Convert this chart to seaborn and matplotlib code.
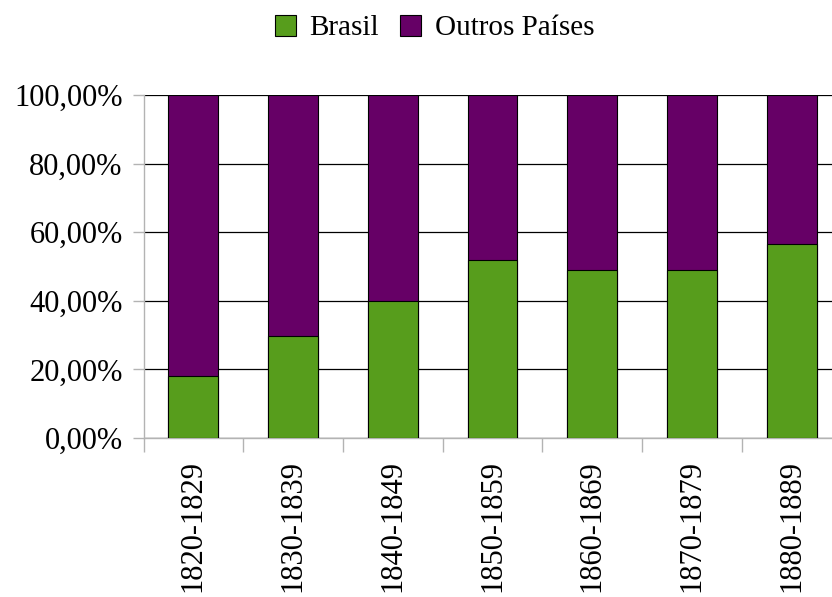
import matplotlib
matplotlib.use("Agg")
import matplotlib.pyplot as plt
import seaborn as sns
import pandas as pd
from matplotlib.ticker import FuncFormatter, FixedLocator
from matplotlib.patches import Patch

decades = ["1820-1829", "1830-1839", "1840-1849", "1850-1859", "1860-1869", "1870-1879", "1880-1889"]
brasil = [18.2, 29.6, 40.0, 52.0, 49.1, 49.1, 56.7]
outros = [100 - b for b in brasil]
series_names = ["Brasil", "Outros Países"]
colors = ["#579d1c", "#660066"]

sns.set_theme(style="white")
plt.rcParams["font.family"] = ["Liberation Serif", "DejaVu Serif"]
plt.rcParams["text.color"] = "black"
plt.rcParams["xtick.labelcolor"] = "black"
plt.rcParams["ytick.labelcolor"] = "black"

df = pd.DataFrame({"decada": decades, "Brasil": brasil, "Outros": outros})
df["total"] = df["Brasil"] + df["Outros"]

fig = plt.figure(figsize=(8.32, 5.97), dpi=100)
ax = fig.add_axes([143.5 / 832, 1 - 438 / 597, 698 / 832, (438 - 95) / 597])

sns.barplot(data=df, x="decada", y="total", color=colors[1], width=0.5,
            edgecolor="black", linewidth=0.8, saturation=1, ax=ax, zorder=3)
sns.barplot(data=df, x="decada", y="Brasil", color=colors[0], width=0.5,
            edgecolor="black", linewidth=0.8, saturation=1, ax=ax, zorder=4)

ax.set_xlim(-0.5, len(decades) - 0.5)
ax.set_ylim(0, 100)
ax.set_xlabel("")
ax.set_ylabel("")

ax.yaxis.set_major_locator(FixedLocator([0, 20, 40, 60, 80, 100]))
ax.yaxis.set_major_formatter(FuncFormatter(lambda v, p: f"{v:.2f}".replace(".", ",") + "%"))
ax.grid(axis="y", color="black", linewidth=0.9, zorder=1)
ax.set_axisbelow(True)

ax.set_xticks(range(len(decades)))
ax.set_xticklabels(decades, rotation=90)
ax.set_xticks([i - 0.5 for i in range(len(decades) + 1)], minor=True)
ax.tick_params(axis="x", which="major", length=0, pad=16, labelsize=22, labelcolor="black")
ax.tick_params(axis="x", which="minor", length=10, width=1, color="#b3b3b3", bottom=True)
ax.tick_params(axis="y", which="major", length=8, width=1, color="#b3b3b3", left=True, pad=7, labelsize=22, labelcolor="black")

for s in ["top", "right"]:
    ax.spines[s].set_visible(False)
for s in ["left", "bottom"]:
    ax.spines[s].set_color("#b3b3b3")
    ax.spines[s].set_linewidth(1)

handles = [Patch(facecolor=c, edgecolor="black", linewidth=0.8) for c in colors]
leg = fig.legend(handles, series_names, loc="center", bbox_to_anchor=(0.522, 0.953), ncol=2,
                 frameon=False, fontsize=21, handlelength=0.75, handleheight=0.75,
                 handletextpad=0.45, columnspacing=0.7)
for t in leg.get_texts():
    t.set_color("black")

fig.savefig("out.png", dpi=100)
